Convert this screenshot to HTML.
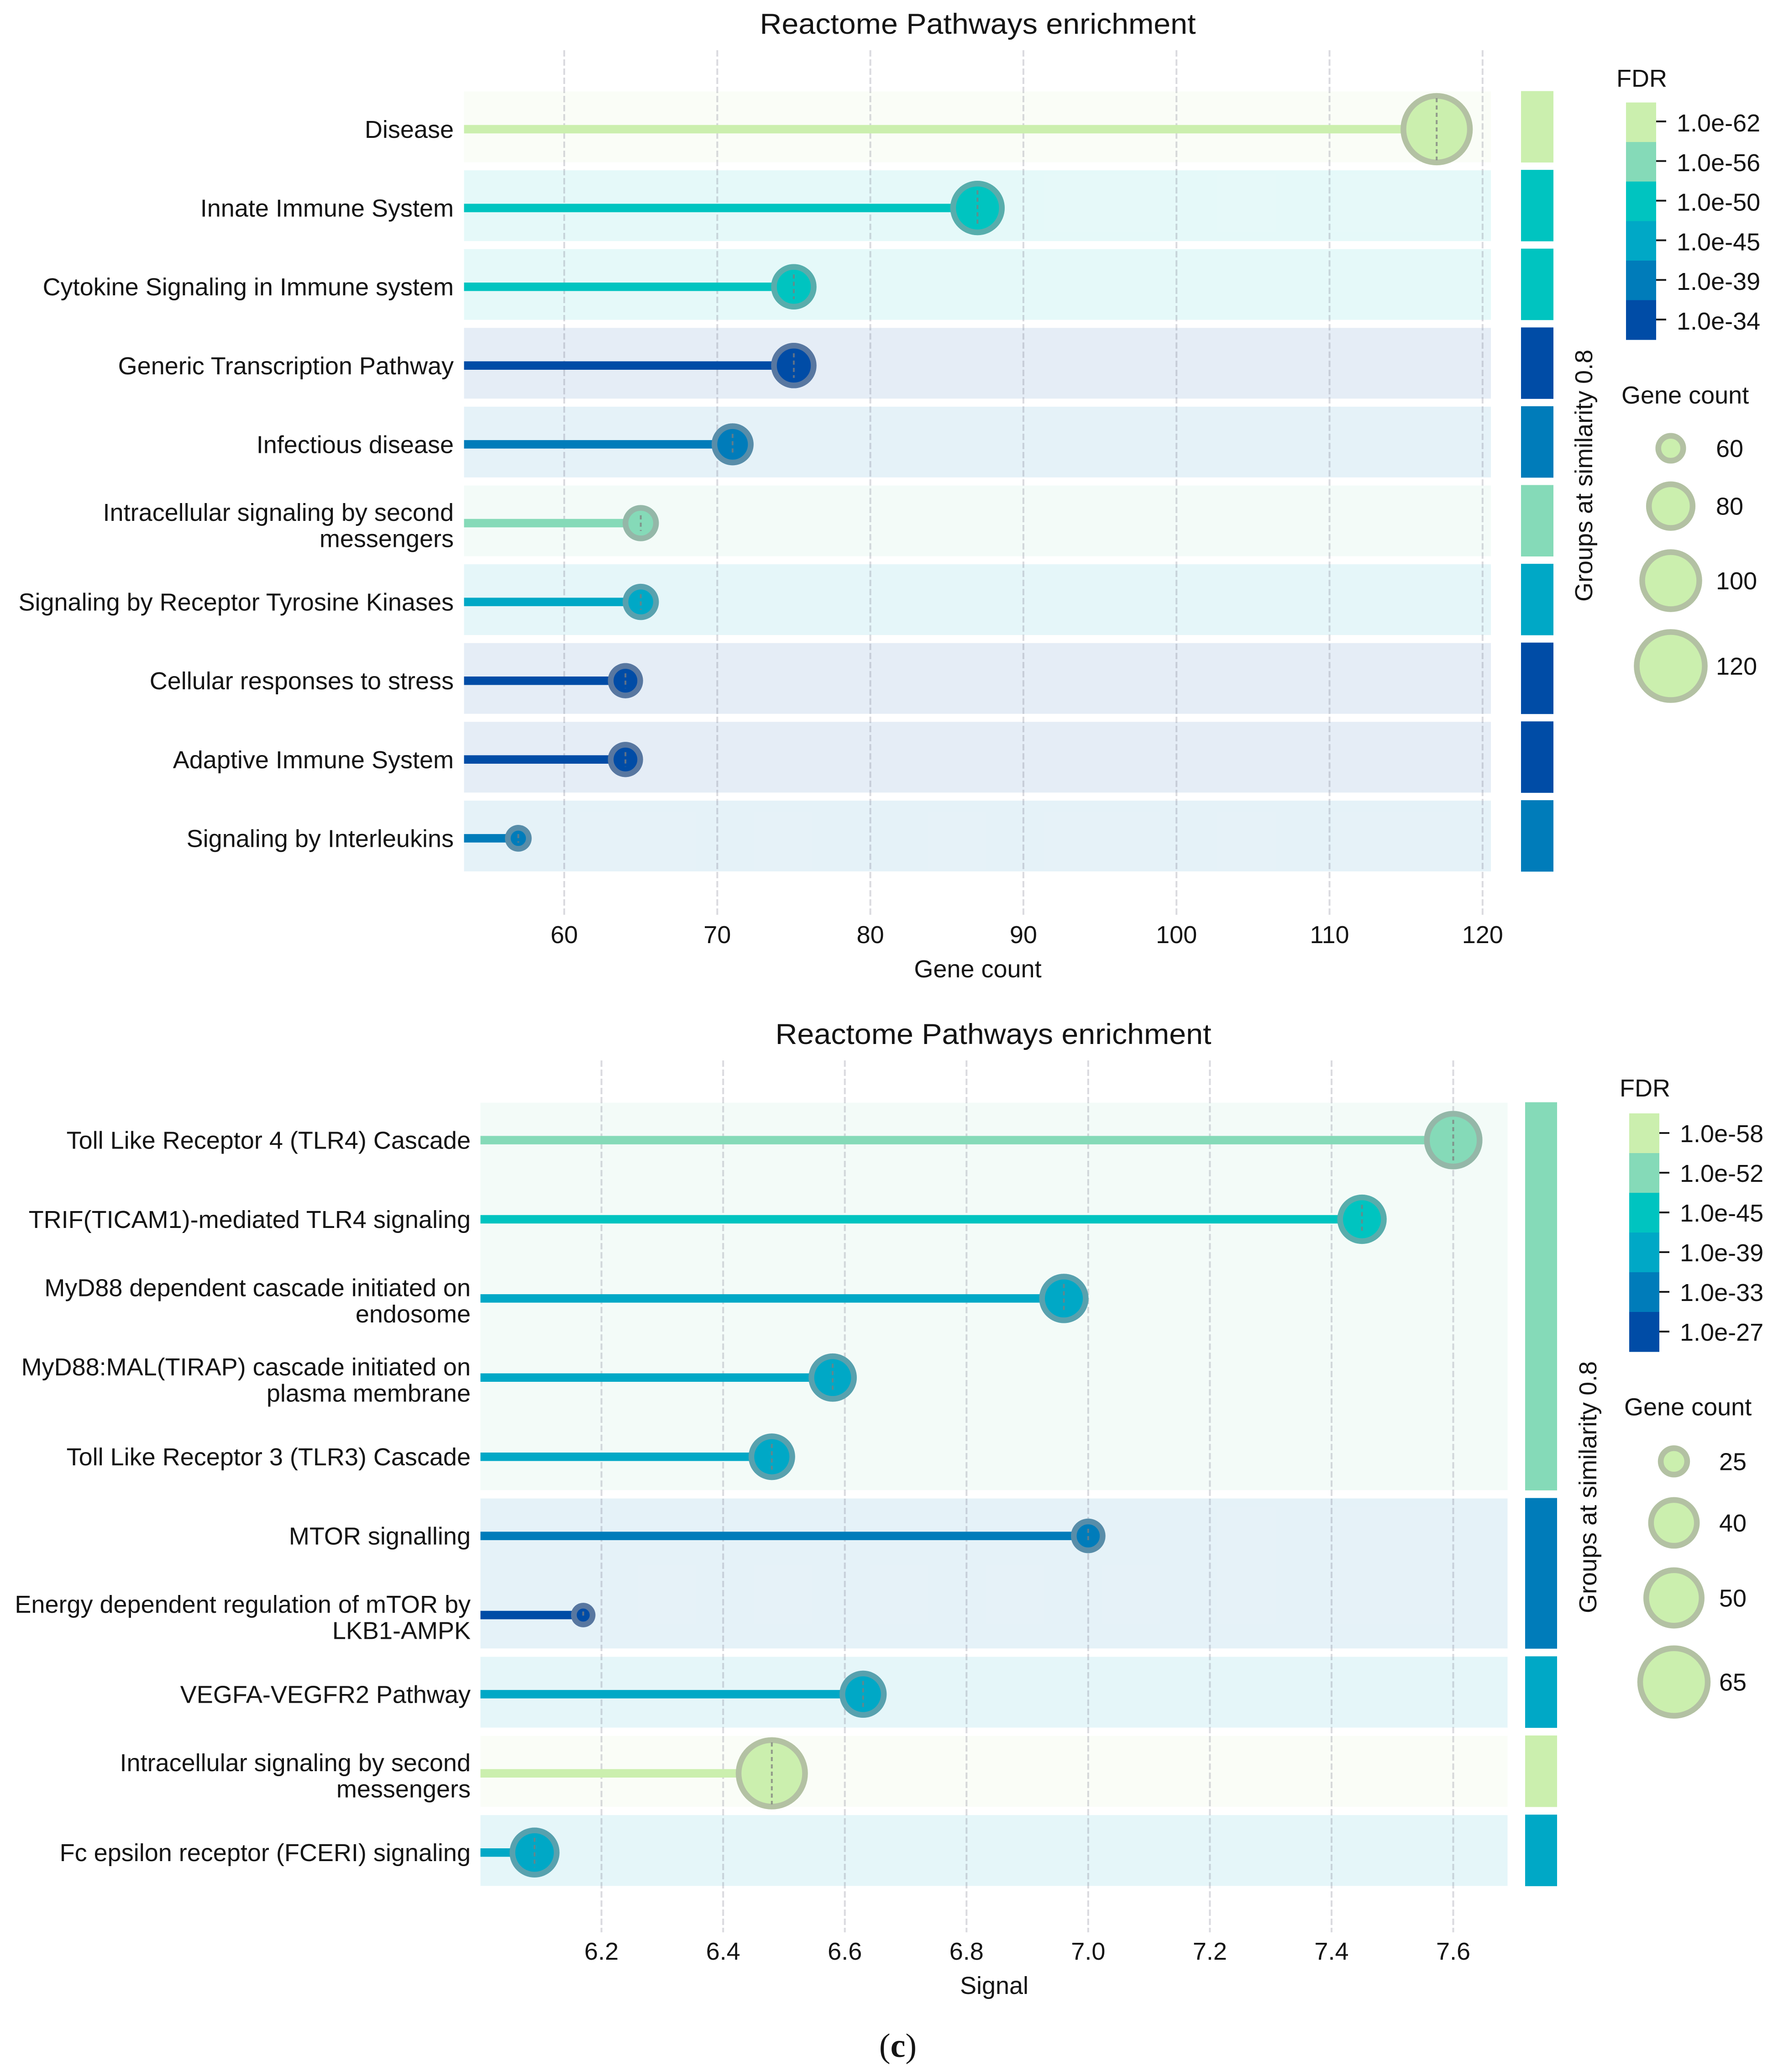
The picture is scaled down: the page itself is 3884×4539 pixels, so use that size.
<!DOCTYPE html>
<html lang="en">
<head>
<meta charset="utf-8">
<title>Reactome Pathways enrichment</title>
<style>
html,body{margin:0;padding:0;background:#fff;width:3884px;height:4539px;overflow:hidden}
svg{display:block}
text{font-family:"Liberation Sans",Arial,sans-serif;fill:#141414;font-size:54px}
</style>
</head>
<body>
<svg id="fig" xmlns="http://www.w3.org/2000/svg" width="3884" height="4539" viewBox="0 0 3884 4539"></svg>
<script>
/* ---------- Chart 1 data ---------- */
const chart1Categories = ["Disease","Innate Immune System","Cytokine Signaling in Immune system","Generic Transcription Pathway","Infectious disease","Intracellular signaling by second\nmessengers","Signaling by Receptor Tyrosine Kinases","Cellular responses to stress","Adaptive Immune System","Signaling by Interleukins"];
const chart1Values = [117,87,75,75,71,65,65,64,64,57];
const chart1GeneCounts = [117,87,75,75,71,65,65,64,64,57];
const chart1FdrExponents = [-62,-50,-50,-34,-39,-56,-45,-34,-34,-39];
const chart1GroupSizes = [1,1,1,1,1,1,1,1,1,1];
const chart1XTicks = [60,70,80,90,100,110,120];
const chart1FdrTicks = [-62,-56,-50,-45,-39,-34];
const chart1SizeTicks = [60,80,100,120];

/* ---------- Chart 2 data ---------- */
const chart2Categories = ["Toll Like Receptor 4 (TLR4) Cascade","TRIF(TICAM1)-mediated TLR4 signaling","MyD88 dependent cascade initiated on\nendosome","MyD88:MAL(TIRAP) cascade initiated on\nplasma membrane","Toll Like Receptor 3 (TLR3) Cascade","MTOR signalling","Energy dependent regulation of mTOR by\nLKB1-AMPK","VEGFA-VEGFR2 Pathway","Intracellular signaling by second\nmessengers","Fc epsilon receptor (FCERI) signaling"];
const chart2Values = [7.6,7.45,6.96,6.58,6.48,7.0,6.17,6.63,6.48,6.09];
const chart2GeneCounts = [47,38,38,37,35.5,26.5,21,36,63.5,38.5];
const chart2FdrExponents = [-52,-45,-39,-39,-39,-33,-27,-39,-58,-39];
const chart2GroupSizes = [5,2,1,1,1];
const chart2XTicks = [6.2,6.4,6.6,6.8,7.0,7.2,7.4,7.6];
const chart2FdrTicks = [-58,-52,-45,-39,-33,-27];
const chart2SizeTicks = [25,40,50,65];

const palette = ["#cbefae","#85dab8","#00c4c0","#00a8c6","#007cba","#004ca6"];
const svg = document.getElementById('fig');
const NS = 'http://www.w3.org/2000/svg';

function mk(tag, attrs, parent){
  const el = document.createElementNS(NS, tag);
  for(const k in attrs){ el.setAttribute(k, attrs[k]); }
  parent.appendChild(el);
  return el;
}
function addText(str, attrs, parent){
  const el = mk('text', attrs, parent);
  el.textContent = str;
  return el;
}
function lollipopCircle(parent, cx, cy, r, color, withDash){
  const disc = mk('circle', {cx:cx, cy:cy, r:r, fill:color}, parent);
  
  
  const ring = mk('circle', {cx:cx, cy:cy, r:r-6.25, fill:'none', stroke:'rgba(160,155,155,0.55)', 'stroke-width':12.5}, parent);
  
  
  if(withDash){
    const half = r * r / 92;
    const dash = mk('line', {x1:cx, x2:cx, y1:cy-half, y2:cy+half, stroke:'rgba(125,125,125,0.75)', 'stroke-width':4, 'stroke-dasharray':'9 7'}, parent);
    
    
  }
}

function drawChart(cfg){
  const g = mk('g', {}, svg);
  
  

  const xScale = v => cfg.xPx0 + (v - cfg.xV0) * cfg.xPxPerUnit;
  const yScale = i => cfg.rowY0 + i * cfg.rowStep;
  const rScale = c => Math.sqrt(cfg.rA * (c - cfg.rC0));
  const colorOf = (exp, ticks) => palette[ticks.indexOf(exp)];

  const title = addText('Reactome Pathways enrichment', {x:cfg.titleX, y:cfg.titleY, 'text-anchor':'middle', textLength:955, lengthAdjust:'spacingAndGlyphs', style:'font-size:63px'}, g);
  
  

  /* group bands and side strip */
  let start = 0;
  cfg.groups.forEach(function(n){
    const color = colorOf(cfg.fdr[start], cfg.fdrTicks);
    const top = yScale(start) - cfg.bandUp;
    const bottom = yScale(start + n - 1) + cfg.bandDown;
    const band = mk('rect', {x:cfg.bandL, y:top, width:cfg.bandR-cfg.bandL, height:bottom-top, fill:color, 'fill-opacity':0.1}, g);
    
    
    const strip = mk('rect', {x:cfg.stripL, y:top-1, width:cfg.stripR-cfg.stripL, height:bottom-top+1.5, fill:color}, g);
    
    
    start += n;
  });

  /* grid and x ticks */
  cfg.xTicks.forEach(function(t){
    const x = xScale(t);
    const grid = mk('line', {x1:x, x2:x, y1:cfg.gridTop, y2:cfg.gridBottom, stroke:'rgba(120,120,135,0.27)', 'stroke-width':4, 'stroke-dasharray':'14 6'}, g);
    
    
    const tick = addText(cfg.fmt(t), {x:x, y:cfg.tickY, 'text-anchor':'middle'}, g);
    
    
  });
  const xTitle = addText(cfg.xTitle, {x:cfg.xTitleX, y:cfg.xTitleY, 'text-anchor':'middle'}, g);
  
  

  /* rows */
  cfg.categories.forEach(function(cat, i){
    const y = yScale(i);
    const color = colorOf(cfg.fdr[i], cfg.fdrTicks);
    const lines = cat.split('\n');
    lines.forEach(function(line, k){
      const by = lines.length === 1 ? y + 19 : y - 5 + k * 57.5;
      const label = addText(line, {x:cfg.labelX, y:by, 'text-anchor':'end'}, g);
      
      
    });
    const cx = xScale(cfg.values[i]);
    const stem = mk('line', {x1:cfg.bandL, x2:cx, y1:y, y2:y, stroke:color, 'stroke-width':18.5}, g);
    
    
    lollipopCircle(g, cx, y, rScale(cfg.counts[i]), color, true);
  });

  /* side-strip label */
  const side = addText('Groups at similarity 0.8', {transform:'translate('+cfg.sideX+','+cfg.sideY+') rotate(-90)', 'text-anchor':'start'}, g);
  
  

  /* FDR legend */
  const fdrTitle = addText('FDR', {x:cfg.fdrTitleX, y:cfg.fdrTitleY}, g);
  
  
  cfg.fdrTicks.forEach(function(exp, i){
    const seg = mk('rect', {x:cfg.barL, y:cfg.barTop + i*cfg.barStep, width:cfg.barW, height:cfg.barStep+0.5, fill:palette[i]}, g);
    
    
    const ty = cfg.fdrTickY0 + i*cfg.fdrTickStep;
    const tick = mk('line', {x1:cfg.barL+cfg.barW, x2:cfg.barL+cfg.barW+22, y1:ty, y2:ty, stroke:'#1c1c1c', 'stroke-width':4}, g);
    
    
    const lab = addText('1.0e' + exp, {x:cfg.barL+cfg.barW+45, y:ty+cfg.fdrLabelDy}, g);
    
    
  });

  /* Gene count legend */
  const sizeTitle = addText('Gene count', {x:cfg.sizeTitleX, y:cfg.sizeTitleY}, g);
  
  
  cfg.sizeTicks.forEach(function(c, i){
    const sy = cfg.sizeYs[i];
    lollipopCircle(g, cfg.sizeCx, sy, rScale(c), palette[0], false);
    const lab = addText(String(c), {x:cfg.sizeLabelX, y:sy+19}, g);
    
    
  });
}

drawChart({
  name:'gene-count-lollipop-chart',
  categories:chart1Categories, values:chart1Values, counts:chart1GeneCounts, fdr:chart1FdrExponents,
  groups:chart1GroupSizes, xTicks:chart1XTicks, fdrTicks:chart1FdrTicks, sizeTicks:chart1SizeTicks,
  fmt:function(v){return String(v);}, xTitle:'Gene count',
  xPx0:1236, xV0:60, xPxPerUnit:33.53,
  rowY0:283, rowStep:172.6, bandUp:82.5, bandDown:72.5,
  bandL:1016.5, bandR:3266, stripL:3332, stripR:3403,
  gridTop:110, gridBottom:2008, tickY:2066, xTitleX:2142, xTitleY:2141,
  titleX:2142, titleY:74, labelX:994,
  rA:90, rC0:47.5,
  sideX:3488, sideY:1318,
  fdrTitleX:3541, fdrTitleY:190,
  barL:3562, barW:66, barTop:224.5, barStep:86.6,
  fdrTickY0:266, fdrTickStep:86.8, fdrLabelDy:22,
  sizeTitleX:3552, sizeTitleY:884,
  sizeCx:3660, sizeYs:[982,1108.7,1272,1459], sizeLabelX:3759
});

drawChart({
  name:'signal-lollipop-chart',
  categories:chart2Categories, values:chart2Values, counts:chart2GeneCounts, fdr:chart2FdrExponents,
  groups:chart2GroupSizes, xTicks:chart2XTicks, fdrTicks:chart2FdrTicks, sizeTicks:chart2SizeTicks,
  fmt:function(v){return v.toFixed(1);}, xTitle:'Signal',
  xPx0:1317.6, xV0:6.2, xPxPerUnit:1332.8,
  rowY0:2497.6, rowStep:173.4, bandUp:82, bandDown:73.2,
  bandL:1052.5, bandR:3302.5, stripL:3341, stripR:3411,
  gridTop:2323, gridBottom:4233, tickY:4293, xTitleX:2178, xTitleY:4368,
  titleX:2176, titleY:2287, labelX:1031,
  rA:130, rC0:15.5,
  sideX:3497, sideY:3534,
  fdrTitleX:3548, fdrTitleY:2402,
  barL:3569, barW:66, barTop:2439, barStep:87,
  fdrTickY0:2482, fdrTickStep:87, fdrLabelDy:20,
  sizeTitleX:3558, sizeTitleY:3100.5,
  sizeCx:3667, sizeYs:[3201.4,3336,3500.5,3684.7], sizeLabelX:3766
});

const panel = mk('text', {x:1967, y:4506, 'text-anchor':'middle', style:'font-family:"Liberation Serif",serif;font-size:74px'}, svg);


const p1 = mk('tspan', {}, panel); p1.textContent = '(';
const p2 = mk('tspan', {'font-weight':'bold'}, panel); p2.textContent = 'c';
const p3 = mk('tspan', {}, panel); p3.textContent = ')';
</script>
</body>
</html>
